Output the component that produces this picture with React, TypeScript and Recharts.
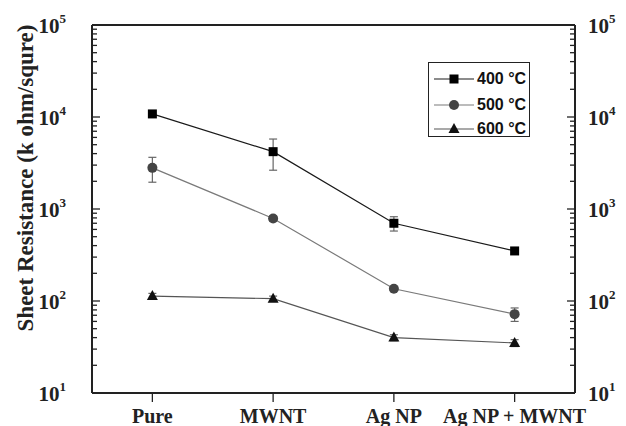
import React from "react";
import {
  ComposedChart,
  Line,
  XAxis,
  YAxis,
  ErrorBar,
  Legend,
  ReferenceLine,
} from "recharts";

const CATEGORIES = ["Pure", "MWNT", "Ag NP", "Ag NP + MWNT"];
const X_POS = [1, 2, 3, 4];

const R_400 = [10800, 4200, 700, 350];
const R_500 = [2800, 790, 136, 72];
const R_600 = [113, 106, 40, 35];

const ERR_400 = [0, 1560, 124, 0];
const ERR_500 = [845, 50, 6, 12];
const ERR_600 = [8, 7, 3, 3];

const DECADES = [10, 100, 1000, 10000, 100000];
const MINOR_STEPS = [2, 3, 4, 5, 6, 7, 8, 9];

const SERIES = [
  { key: "t400", err: "e400", label: "400 °C", line: "#1a1a1a", fill: "#000", shape: "square" },
  { key: "t500", err: "e500", label: "500 °C", line: "#7a7a7a", fill: "#444", shape: "circle" },
  { key: "t600", err: "e600", label: "600 °C", line: "#555", fill: "#111", shape: "triangle" },
];

const data = X_POS.map((x, i) => ({
  x,
  t400: R_400[i],
  t500: R_500[i],
  t600: R_600[i],
  e400: ERR_400[i],
  e500: ERR_500[i],
  e600: ERR_600[i],
}));

// all tick positions on the log axis, majors plus minors
const LOG_TICKS: number[] = [];
DECADES.forEach((d, i) => {
  LOG_TICKS.push(d);
  if (i < DECADES.length - 1) MINOR_STEPS.forEach((m) => LOG_TICKS.push(d * m));
});

const AXIS = "#222";
const SERIF = "'Liberation Serif', 'Times New Roman', serif";
const SANS = "'Liberation Sans', Arial, sans-serif";

function Marker({ shape, cx, cy, fill }: { shape: string; cx: number; cy: number; fill: string }) {
  if (shape === "square") return <rect x={cx - 4.5} y={cy - 4.5} width={9} height={9} fill={fill} />;
  if (shape === "circle") return <circle cx={cx} cy={cy} r={5} fill={fill} />;
  return <polygon points={`${cx},${cy - 6} ${cx - 5.5},${cy + 4} ${cx + 5.5},${cy + 4}`} fill={fill} />;
}

const isMajor = (v: number) => DECADES.includes(v);

function LeftTick(props: any) {
  const { x, y, payload } = props;
  const v = payload.value;
  const major = isMajor(v);
  return (
    <g>
      <line x1={x} x2={x + (major ? 8 : 5)} y1={y} y2={y} stroke={AXIS} strokeWidth={1.3} />
      {major && (
        <text x={x - 26} y={y} textAnchor="end" fontFamily={SERIF} fontWeight="bold" fill={AXIS}>
          <tspan fontSize={21} dy="0.36em">10</tspan>
          <tspan fontSize={13} dy="-0.75em">{Math.round(Math.log10(v))}</tspan>
        </text>
      )}
    </g>
  );
}

function RightTick(props: any) {
  const { x, y, payload } = props;
  const v = payload.value;
  const major = isMajor(v);
  return (
    <g>
      <line x1={x} x2={x - (major ? 8 : 5)} y1={y} y2={y} stroke={AXIS} strokeWidth={1.3} />
      {major && (
        <text x={x + 13} y={y} textAnchor="start" fontFamily={SERIF} fontWeight="bold" fill={AXIS}>
          <tspan fontSize={21} dy="0.36em">10</tspan>
          <tspan fontSize={13} dy="-0.75em">{Math.round(Math.log10(v))}</tspan>
        </text>
      )}
    </g>
  );
}

function BottomTick(props: any) {
  const { x, y, payload } = props;
  return (
    <g>
      <line x1={x} x2={x} y1={y} y2={y + 9} stroke={AXIS} strokeWidth={1.3} />
      <text x={x} y={y + 30} textAnchor="middle" fontFamily={SERIF} fontWeight="bold" fontSize={20} fill={AXIS}>
        {CATEGORIES[payload.value - 1]}
      </text>
    </g>
  );
}

function LegendBox() {
  return (
    <div
      style={{
        border: `1px solid ${AXIS}`,
        width: 100,
        height: 73,
        background: "#fff",
        boxSizing: "content-box",
        position: "relative",
      }}
    >
      {SERIES.map((s, i) => {
        const cy = [16, 42, 66][i];
        return (
          <div key={s.key} style={{ position: "absolute", left: 0, top: cy - 10, height: 20, display: "flex", alignItems: "center" }}>
            <svg width={48} height={20} style={{ display: "block" }}>
              <line x1={5} x2={45} y1={10} y2={10} stroke={s.line} strokeWidth={1.2} />
              <Marker shape={s.shape} cx={25} cy={10} fill={s.fill} />
            </svg>
            <span style={{ fontFamily: SANS, fontWeight: "bold", fontSize: 16, color: "#111", whiteSpace: "nowrap" }}>
              {s.label}
            </span>
          </div>
        );
      })}
    </div>
  );
}

export default function App() {
  return (
    <div style={{ position: "absolute", left: 0, top: 0, width: 626, height: 426, background: "#fff" }}>
      <ComposedChart
        width={626}
        height={426}
        data={data}
        margin={{ top: 25, right: 0, left: 0, bottom: 0 }}
      >
        <XAxis
          dataKey="x"
          type="number"
          domain={[0.5, 4.5]}
          ticks={X_POS}
          interval={0}
          height={33}
          tickSize={0}
          tickMargin={0}
          tickLine={false}
          tick={<BottomTick />}
          axisLine={{ stroke: AXIS, strokeWidth: 2 }}
        />
        <YAxis
          yAxisId="l"
          scale="log"
          domain={[10, 100000]}
          allowDataOverflow
          ticks={LOG_TICKS}
          interval={0}
          width={92}
          tickSize={0}
          tickMargin={0}
          tickLine={false}
          tick={<LeftTick />}
          axisLine={{ stroke: AXIS, strokeWidth: 2 }}
          label={{
            content: () => (
              <text
                x={25}
                y={178}
                transform="rotate(-90, 25, 178)"
                textAnchor="middle"
                dominantBaseline="central"
                fontFamily={SERIF}
                fontWeight="bold"
                fontSize={23}
                fill={AXIS}
              >
                Sheet Resistance (k ohm/squre)
              </text>
            ),
          }}
        />
        <YAxis
          yAxisId="r"
          orientation="right"
          scale="log"
          domain={[10, 100000]}
          allowDataOverflow
          ticks={LOG_TICKS}
          interval={0}
          width={51}
          tickSize={0}
          tickMargin={0}
          tickLine={false}
          tick={<RightTick />}
          axisLine={{ stroke: AXIS, strokeWidth: 2 }}
        />
        <ReferenceLine yAxisId="l" y={100000} stroke={AXIS} strokeWidth={2} />
        {SERIES.map((s) => (
          <Line
            key={s.key}
            yAxisId="l"
            dataKey={s.key}
            type="linear"
            stroke={s.line}
            strokeWidth={1.2}
            isAnimationActive={false}
            dot={(p: any) => <Marker key={`${s.key}-${p.index}`} shape={s.shape} cx={p.cx} cy={p.cy} fill={s.fill} />}
            activeDot={false}
          >
            <ErrorBar dataKey={s.err} direction="y" width={4} stroke="#666" strokeWidth={1.2} />
          </Line>
        ))}
        <Legend
          layout="vertical"
          align="center"
          verticalAlign="middle"
          wrapperStyle={{ left: 428, top: 62, width: 102, height: 75 }}
          content={() => <LegendBox />}
        />
      </ComposedChart>
    </div>
  );
}
